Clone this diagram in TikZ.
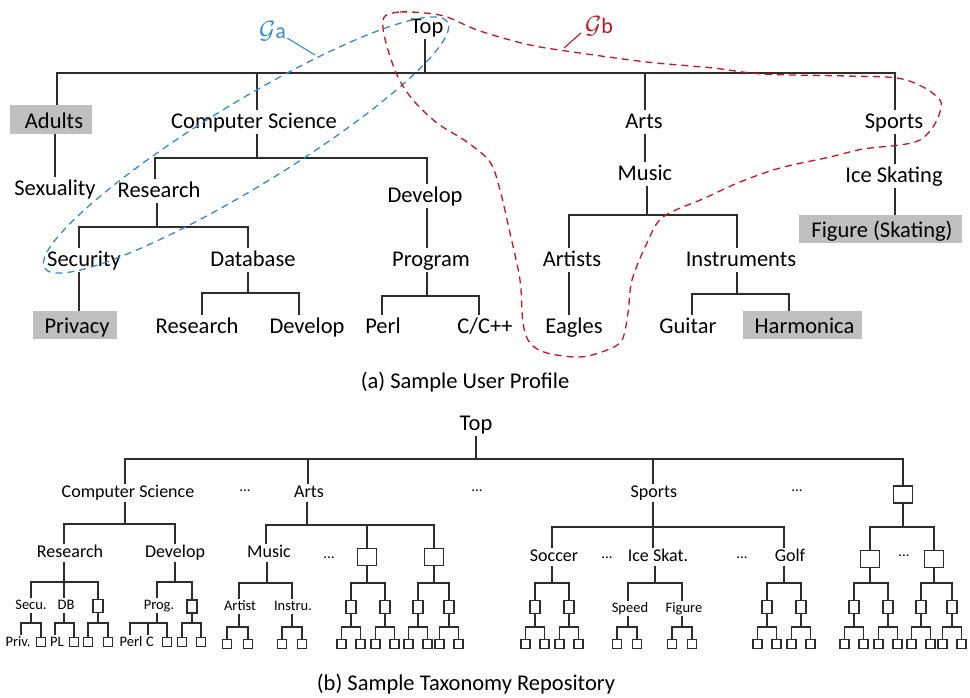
\documentclass[tikz,border=0pt]{standalone}
\usepackage{fontspec}
\setmainfont{Carlito}
\definecolor{gablue}{RGB}{52,140,205}
\definecolor{gbred}{RGB}{204,20,32}
\definecolor{edgec}{RGB}{45,45,45}
\newcommand\LeafFork[6]{%
  \coordinate (#1j) at (#2,#5);
  \coordinate (#1jl) at (#3,#5);
  \coordinate (#1jr) at (#4,#5);
  \node[lbx] (#1l) at (#3,#6) {};
  \node[lbx] (#1r) at (#4,#6) {};
  \draw[edge] (#1.south -| #1j) -- (#1j);
  \draw[edge] (#1jl) -- (#1jr);
  \draw[edge] (#1jl) -- (#1l.north);
  \draw[edge] (#1jr) -- (#1r.north);
}
\newcommand\MidFork[4]{%
  \coordinate (#1j) at (#2,583);
  \coordinate (#1jl) at (#3,583);
  \coordinate (#1jr) at (#4,583);
  \node[mbx] (#1a) at (#3,607) {};
  \node[mbx] (#1b) at (#4,607) {};
  \draw[edge] (#1.south -| #1j) -- (#1j);
  \draw[edge] (#1jl) -- (#1jr);
  \draw[edge] (#1jl) -- (#1a.north);
  \draw[edge] (#1jr) -- (#1b.north);
  \LeafFork{#1a}{#3}{#3-9.5}{#3+9.5}{627}{644}
  \LeafFork{#1b}{#4}{#4-9.5}{#4+9.5}{627}{644}
}
\begin{document}
\begin{tikzpicture}[x=1pt,y=-1pt,
  edge/.style={draw=edgec, line width=1.3pt, line cap=rect},
  big/.style={font=\fontsize{22.5}{27}\selectfont, inner xsep=1pt, inner ysep=1.5pt, text height=17pt, text depth=5pt, anchor=base},
  hl/.style={font=\fontsize{22.5}{27}\selectfont, fill=gray!50, inner sep=0pt, text height=21pt, text depth=4pt},
  mid/.style={font=\fontsize{18}{22}\selectfont, inner xsep=1pt, inner ysep=1.5pt, text height=12pt, text depth=4pt, anchor=base},
  sm/.style={font=\fontsize{14.5}{17}\selectfont, inner xsep=0.5pt, inner ysep=1.5pt, text height=9.5pt, text depth=3pt, anchor=base},
  bx/.style={draw=edgec, line width=1.3pt, inner sep=0pt, minimum width=19pt, minimum height=17pt},
  mbx/.style={bx, minimum width=10pt, minimum height=13pt},
  lbx/.style={bx, minimum width=9pt, minimum height=9pt},
  dots/.style={font=\fontsize{15}{17}\selectfont, inner sep=0pt, anchor=base},
  gacurve/.style={draw=gablue, line width=1.3pt, dash pattern=on 7pt off 5pt},
  gbcurve/.style={draw=gbred, line width=1.3pt, dash pattern=on 7pt off 5pt}
]
\useasboundingbox (0,0) rectangle (970,697);
\fill[white] (0,0) rectangle (970,697);

% ================= (a) =================
\node[big] (top) at (427,33) {Top};
\coordinate (jtop) at (425,73);
\coordinate (jad) at (57,73);
\coordinate (jcs) at (257,73);
\coordinate (jarts) at (645,73);
\coordinate (jsp) at (895,73);
\node[hl, minimum width=82pt, minimum height=29pt] (adults) at (51,119.5) {\hspace*{6pt}Adults};
\node[big] (cs) at (254,128) {Computer Science};
\node[big] (arts) at (644,128) {Arts};
\node[big] (sports) at (894,128) {Sports};
\draw[edge] (top.south -| jtop) -- (jtop);
\draw[edge] (jad) -- (jsp);
\draw[edge] (jad) -- (jad |- adults.north);
\draw[edge] (jcs) -- (jcs |- cs.north);
\draw[edge] (jarts) -- (jarts |- arts.north);
\draw[edge] (jsp) -- (jsp |- sports.north);

\node[big] (sex) at (55,195) {Sexuality};
\draw[edge] (adults.south -| sex.north) -- (sex.north);

\coordinate (jcs2) at (257,158);
\coordinate (jres) at (155,158);
\coordinate (jdev) at (427,158);
\node[big] (res) at (159,197) {Research};
\node[big] (dev) at (425,202) {Develop};
\draw[edge] (cs.south -| jcs2) -- (jcs2);
\draw[edge] (jres) -- (jdev);
\draw[edge] (jres) -- (jres |- res.north);
\draw[edge] (jdev) -- (jdev |- dev.north);

\coordinate (jres2) at (157,227);
\coordinate (jsec) at (79,227);
\coordinate (jdb) at (248,227);
\node[big] (sec) at (84,266) {Security};
\node[big] (db) at (253,266) {Database};
\draw[edge] (res.south -| jres2) -- (jres2);
\draw[edge] (jsec) -- (jdb);
\draw[edge] (jsec) -- (jsec |- sec.north);
\draw[edge] (jdb) -- (jdb |- db.north);
\node[hl, minimum width=84pt, minimum height=28pt] (priv) at (75,325) {\hspace*{4pt}Privacy};
\draw[edge] (sec.south -| jsec) -- (jsec |- priv.north);

\coordinate (jdb2) at (248,293);
\coordinate (jr2) at (202,293);
\coordinate (jd2) at (299,293);
\node[big] (rtwo) at (197,333) {Research};
\node[big] (dtwo) at (307,333) {Develop};
\draw[edge] (db.south -| jdb2) -- (jdb2);
\draw[edge] (jr2) -- (jd2);
\draw[edge] (jr2) -- (jr2 |- rtwo.north);
\draw[edge] (jd2) -- (jd2 |- dtwo.north);

\node[big] (prog) at (431,266) {Program};
\draw[edge] (dev.south -| jdev) -- (jdev |- prog.north);
\coordinate (jprog) at (427,296);
\coordinate (jperl) at (382,296);
\coordinate (jcpp) at (479,296);
\node[big] (perl) at (383,333) {Perl};
\node[big] (cpp) at (485,333) {C/C++};
\draw[edge] (prog.south -| jprog) -- (jprog);
\draw[edge] (jperl) -- (jcpp);
\draw[edge] (jperl) -- (jperl |- perl.north);
\draw[edge] (jcpp) -- (jcpp |- cpp.north);

\node[big] (music) at (645,180) {Music};
\draw[edge] (arts.south -| jarts) -- (jarts |- music.north);
\coordinate (jmus) at (647,215);
\coordinate (jart) at (569,215);
\coordinate (jins) at (737,215);
\node[big] (artists) at (572,266) {Artists};
\node[big] (instr) at (741,266) {Instruments};
\draw[edge] (music.south -| jmus) -- (jmus);
\draw[edge] (jart) -- (jins);
\draw[edge] (jart) -- (jart |- artists.north);
\draw[edge] (jins) -- (jins |- instr.north);
\node[big] (eagles) at (574,333) {Eagles};
\draw[edge] (artists.south -| jart) -- (jart |- eagles.north);
\coordinate (jins2) at (737,294);
\coordinate (jgui) at (692,294);
\coordinate (jharm) at (789,294);
\node[big] (guitar) at (688,333) {Guitar};
\node[hl, minimum width=119pt, minimum height=28pt] (harm) at (802.5,325) {\hspace*{4pt}Harmonica};
\draw[edge] (instr.south -| jins2) -- (jins2);
\draw[edge] (jgui) -- (jharm);
\draw[edge] (jgui) -- (jgui |- guitar.north);
\draw[edge] (jharm) -- (jharm |- harm.north);

\node[big] (ice) at (894,182) {Ice Skating};
\draw[edge] (sports.south -| jsp) -- (jsp |- ice.north);
\node[hl, minimum width=163pt, minimum height=28pt] (fig) at (880.5,229) {\hspace*{3pt}Figure (Skating)};
\draw[edge] (ice.south -| jsp) -- (jsp |- fig.north);

\node[big] (capa) at (465,388) {(a) Sample User Profile};

% groups
\draw[gacurve, rotate around={31.4:(246,145)}] (246,145) ellipse [x radius=236pt, y radius=42pt];
\draw[gbcurve] plot[smooth cycle, tension=0.55] coordinates {
 (385,16) (400,12) (425,13) (447,17) (480,31) (530,45) (580,53) (647,62)
 (713,68) (763,74) (847,76) (897,78) (923,87) (940,100) (940,112) (933,127)
 (920,140) (900,145) (863,149) (830,157) (780,168) (740,182) (705,198)
 (663,217) (647,243) (632,280) (628,313) (622,340) (607,350) (580,357)
 (547,353) (530,343) (523,323) (520,280) (510,233) (500,190) (490,162)
 (467,142) (437,123) (413,100) (398,77) (388,50) (383,28)};
\node[font=\fontsize{22}{26}\selectfont, text=gablue, inner sep=0pt, anchor=base west] (ga) at (259,38) {{\fontsize{27}{30}\selectfont$\mathcal{G}$}a};
\coordinate (gaend) at (315,55);
\draw[gablue, line width=1.1pt] ([xshift=1pt]ga.base east) -- (gaend);
\node[font=\fontsize{22}{26}\selectfont, text=gbred, inner sep=0pt, anchor=base west] (gb) at (585,33) {{\fontsize{27}{30}\selectfont$\mathcal{G}$}b};
\coordinate (gbend) at (564,48);
\draw[gbred, line width=1.1pt] ([xshift=-4pt]gb.base west) -- (gbend);

% ================= (b) =================
\node[big] (topb) at (476,430) {Top};
\coordinate (jtopb) at (476,459);
\coordinate (jcsb) at (125,459);
\coordinate (jartsb) at (308,459);
\coordinate (jspb) at (653,459);
\coordinate (jrb) at (903,459);
\node[mid] (csb) at (128,497) {Computer Science};
\node[mid] (artsb) at (309,497) {Arts};
\node[mid] (spb) at (654,497) {Sports};
\node[bx] (rb) at (903,494.5) {};
\draw[edge] (topb.south -| jtopb) -- (jtopb);
\draw[edge] (jcsb) -- (jrb);
\draw[edge] (jcsb) -- (jcsb |- csb.north);
\draw[edge] (jartsb) -- (jartsb |- artsb.north);
\draw[edge] (jspb) -- (jspb |- spb.north);
\draw[edge] (jrb) -- (rb.north);
\node[dots] (d1) at (245,491) {...};
\node[dots] (d2) at (477,491) {...};
\node[dots] (d3) at (797,491) {...};

% CS subtree
\coordinate (jcsb2) at (125,524);
\coordinate (jresb) at (64,524);
\coordinate (jdevb) at (175,524);
\node[mid] (resb) at (70,557) {Research};
\node[mid] (devb) at (175,557) {Develop};
\draw[edge] (csb.south -| jcsb2) -- (jcsb2);
\draw[edge] (jresb) -- (jdevb);
\draw[edge] (jresb) -- (jresb |- resb.north);
\draw[edge] (jdevb) -- (jdevb |- devb.north);

\coordinate (jresb2) at (64,582);
\coordinate (jsecu) at (31,582);
\coordinate (jrbx) at (98,582);
\node[sm] (secu) at (31,609) {Secu.};
\node[sm] (dbb) at (66,609) {DB};
\node[mbx] (rbx) at (98,606) {};
\draw[edge] (resb.south -| jresb2) -- (jresb2);
\draw[edge] (jsecu) -- (jrbx);
\draw[edge] (jsecu) -- (jsecu |- secu.north);
\draw[edge] (jresb2) -- (jresb2 |- dbb.north);
\draw[edge] (jrbx) -- (rbx.north);

\coordinate (jsecu2) at (31,623);
\coordinate (jpriv) at (21,623);
\coordinate (jl1) at (41,623);
\node[sm] (privb) at (18,646) {Priv.};
\node[lbx] (l1) at (41,642) {};
\draw[edge] (secu.south -| jsecu2) -- (jsecu2);
\draw[edge] (jpriv) -- (jl1);
\draw[edge] (jpriv) -- (jpriv |- privb.north);
\draw[edge] (jl1) -- (l1.north);

\coordinate (jdb3) at (64,623);
\coordinate (jpl) at (55,623);
\coordinate (jl2) at (74,623);
\node[sm] (pl) at (57,646) {PL};
\node[lbx] (l2) at (74,642) {};
\draw[edge] (dbb.south -| jdb3) -- (jdb3);
\draw[edge] (jpl) -- (jl2);
\draw[edge] (jpl) -- (jpl |- pl.north);
\draw[edge] (jl2) -- (l2.north);
\LeafFork{rbx}{98}{88}{108}{623}{642}

\coordinate (jdevb2) at (175,582);
\coordinate (jprogb) at (157,582);
\coordinate (jdbx) at (192,582);
\node[sm] (progb) at (159,609) {Prog.};
\node[mbx] (dbx) at (192,606.5) {};
\draw[edge] (devb.south -| jdevb2) -- (jdevb2);
\draw[edge] (jprogb) -- (jdbx);
\draw[edge] (jprogb) -- (jprogb |- progb.north);
\draw[edge] (jdbx) -- (dbx.north);

\coordinate (jprogb2) at (157,623);
\coordinate (jperlb) at (130,623);
\coordinate (jcb) at (148,623);
\coordinate (jl3) at (167,623);
\node[sm] (perlb) at (131,646) {Perl};
\node[sm] (cb) at (150,646) {C};
\node[lbx] (l3) at (167,642) {};
\draw[edge] (progb.south -| jprogb2) -- (jprogb2);
\draw[edge] (jperlb) -- (jl3);
\draw[edge] (jperlb) -- (jperlb |- perlb.north);
\draw[edge] (jcb) -- (jcb |- cb.north);
\draw[edge] (jl3) -- (l3.north);
\LeafFork{dbx}{192}{182}{201}{623}{642}

% Arts subtree
\coordinate (jartsb2) at (307,525);
\coordinate (jmusb) at (266,525);
\coordinate (jab1) at (367,525);
\coordinate (jab2) at (434,525);
\node[mid] (musb) at (269,557) {Music};
\node[bx] (ab1) at (367,557) {};
\node[bx] (ab2) at (434,557) {};
\node[dots] (d4) at (329,558) {...};
\draw[edge] (artsb.south -| jartsb2) -- (jartsb2);
\draw[edge] (jmusb) -- (jab2);
\draw[edge] (jmusb) -- (jmusb |- musb.north);
\draw[edge] (jab1) -- (ab1.north);
\draw[edge] (jab2) -- (ab2.north);

\coordinate (jmusb2) at (267,583);
\coordinate (jartist) at (239,583);
\coordinate (jinstru) at (292,583);
\node[sm] (artist) at (240,610) {Artist};
\node[sm] (instru) at (293,610) {Instru.};
\draw[edge] (musb.south -| jmusb2) -- (jmusb2);
\draw[edge] (jartist) -- (jinstru);
\draw[edge] (jartist) -- (jartist |- artist.north);
\draw[edge] (jinstru) -- (jinstru |- instru.north);
\LeafFork{artist}{239}{227}{248}{627}{644}
\LeafFork{instru}{292}{282}{302}{627}{644}
\MidFork{ab1}{367}{351}{385}
\MidFork{ab2}{434}{418}{449}

% Sports subtree
\coordinate (jspb2) at (653,527);
\coordinate (jsoc) at (552,527);
\coordinate (jgolf) at (784,527);
\node[mid] (soc) at (554,561) {Soccer};
\node[mid] (iceb) at (658,561) {Ice Skat.};
\node[mid] (golf) at (790,561) {Golf};
\node[dots] (d5) at (607,558) {...};
\node[dots] (d6) at (742,558) {...};
\draw[edge] (spb.south -| jspb2) -- (jspb2);
\draw[edge] (jsoc) -- (jgolf);
\draw[edge] (jsoc) -- (jsoc |- soc.north);
\draw[edge] (jspb2) -- (jspb2 |- iceb.north);
\draw[edge] (jgolf) -- (jgolf |- golf.north);
\MidFork{soc}{552}{535}{569}

\coordinate (jiceb) at (655,583);
\coordinate (jspeed) at (628,583);
\coordinate (jfig) at (682,583);
\node[sm] (speed) at (630,612) {Speed};
\node[sm] (figb) at (684,612) {Figure};
\draw[edge] (iceb.south -| jiceb) -- (jiceb);
\draw[edge] (jspeed) -- (jfig);
\draw[edge] (jspeed) -- (jspeed |- speed.north);
\draw[edge] (jfig) -- (jfig |- figb.north);
\LeafFork{speed}{628}{617}{637}{627}{644}
\LeafFork{figb}{682}{672}{692}{627}{644}
\MidFork{golf}{784}{767}{801}

% Right box subtree
\coordinate (jrb2) at (903,527);
\coordinate (jrb3) at (870,527);
\coordinate (jrb4) at (934,527);
\node[bx] (rb1) at (870,559) {};
\node[bx] (rb2) at (934,559) {};
\node[dots] (d7) at (904,556) {...};
\draw[edge] (rb.south) -- (jrb2);
\draw[edge] (jrb3) -- (jrb4);
\draw[edge] (jrb3) -- (rb1.north);
\draw[edge] (jrb4) -- (rb2.north);
\MidFork{rb1}{870}{854}{888}
\MidFork{rb2}{934}{921}{952}

\node[big] (capb) at (466,690) {(b) Sample Taxonomy Repository};
\end{tikzpicture}
\end{document}
